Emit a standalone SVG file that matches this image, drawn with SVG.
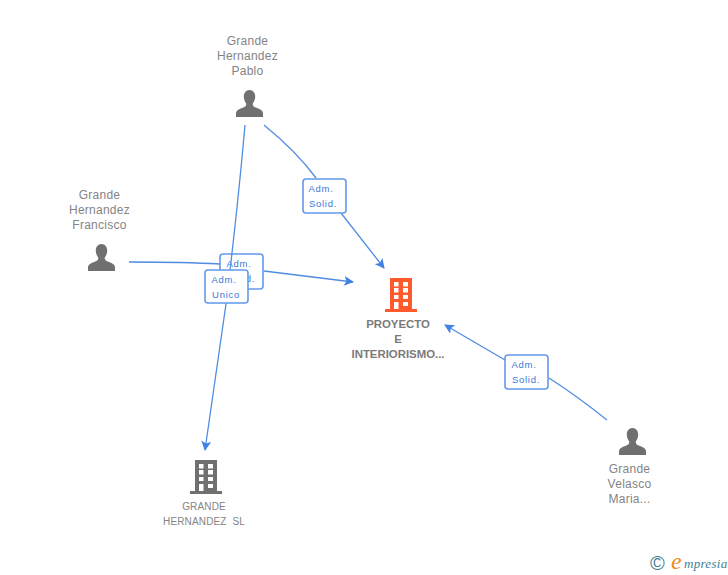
<svg xmlns="http://www.w3.org/2000/svg" width="728" height="575" viewBox="0 0 728 575">
<style>
text{font-family:"Liberation Sans",Arial,sans-serif}
.n{font-size:12px;fill:#848484;text-anchor:middle;letter-spacing:.25px}
.b{font-size:11.400px;font-weight:bold;fill:#7a7a7a;letter-spacing:0}
.s{font-size:10px;letter-spacing:.15px}
.c{fill:none;stroke:#4f8ce2;stroke-width:1.3}
.box{fill:#fff;stroke:#639aec;stroke-width:1.6}
.l{font-size:9.500px;fill:#3a78d8;text-anchor:middle;letter-spacing:.7px}
.p{fill:#707070}
</style>
<defs>
<marker id="a" viewBox="0 0 10 10" refX="9" refY="5" markerWidth="10" markerHeight="10" markerUnits="userSpaceOnUse" orient="auto"><path d="M0,0L10,5L0,10L2.500,5Z" fill="#3f82e4"/></marker>
<path id="person" d="M13.500,0C9.800,0 7.800,3 7.800,6.500C7.800,9.500 9,12 10.300,13.800C10.300,15.500 9.800,16.300 8,17.200C4.500,18.800 0.500,19.500 0,23L0,27L27,27L27,23C26.500,19.500 22.500,18.800 19,17.200C17.200,16.300 16.700,15.500 16.700,13.800C18,12 19.200,9.500 19.200,6.500C19.200,3 17.200,0 13.500,0Z"/>
<path id="bld" fill-rule="evenodd" d="M5,0H27V31H32V34H0V31H5ZM9,4V8.500H13.500V4ZM18,4V8.500H23V4ZM9,10V14.500H13.500V10ZM18,10V14.500H23V10ZM9,17V21H13.500V17ZM18,17V21H23V17ZM9,24V31H13.500V24ZM18,24V28H23V24Z"/>
</defs>
<g id="conn-back">
<path class="c" d="M264,125Q297,152 316,178"/>
<path class="c" d="M341,213L384,268" marker-end="url(#a)"/>
<path class="c" d="M129,262Q185,262 220,264"/>
<path class="c" d="M264,271L353,282" marker-end="url(#a)"/>
<path class="c" d="M607,420Q577,396 549,378"/>
<path class="c" d="M505,360L445,325" marker-end="url(#a)"/>
</g>
<g id="label-francisco"><rect class="box" x="220" y="254" width="43" height="35" rx="3"/><text class="l" x="239" y="267">Adm.</text><text class="l" x="241" y="282">Solid.</text></g>
<g id="conn-front"><path class="c" d="M245,125Q238,205 226,304L205,450" marker-end="url(#a)"/></g>
<g id="label-pablo"><rect class="box" x="303" y="179" width="43" height="34" rx="3"/><text class="l" x="321" y="192">Adm.</text><text class="l" x="323" y="207">Solid.</text></g>
<g id="label-sl"><rect class="box" x="205" y="270" width="43" height="33" rx="3"/><text class="l" x="224" y="283">Adm.</text><text class="l" x="226" y="298">Unico</text></g>
<g id="label-maria"><rect class="box" x="505" y="355" width="43" height="34" rx="3"/><text class="l" x="524" y="368">Adm.</text><text class="l" x="526" y="383">Solid.</text></g>
<g id="node-pablo"><text class="n" x="247.500" y="45">Grande</text><text class="n" x="247.500" y="60">Hernandez</text><text class="n" x="247.500" y="75">Pablo</text><use href="#person" class="p" x="236" y="90"/></g>
<g id="node-francisco"><text class="n" x="99.500" y="199">Grande</text><text class="n" x="99.500" y="214">Hernandez</text><text class="n" x="99.500" y="229">Francisco</text><use href="#person" class="p" x="88" y="244"/></g>
<g id="node-maria"><use href="#person" class="p" x="619" y="428"/><text class="n" x="629.500" y="473">Grande</text><text class="n" x="629.500" y="488">Velasco</text><text class="n" x="629.500" y="503">Maria...</text></g>
<g id="node-proyecto"><use href="#bld" fill="#ff5a2c" x="385" y="278"/><text class="n b" x="398" y="328">PROYECTO</text><text class="n b" x="398" y="343">E</text><text class="n b" x="398" y="358">INTERIORISMO...</text></g>
<g id="node-sl"><use href="#bld" fill="#707070" x="190" y="460"/><text class="n s" x="204" y="510">GRANDE</text><text class="n s" x="204" y="525" xml:space="preserve">HERNANDEZ  SL</text></g>
<g id="logo"><text x="650" y="570" style="font-size:20px;fill:#3f7f96">©</text><text x="671" y="569" style="font-family:'Liberation Serif',serif;font-size:24px;font-style:italic;fill:#f08a1d">e</text><text x="684" y="568" style="font-family:'Liberation Serif',serif;font-size:13px;font-style:italic;letter-spacing:.3px;fill:#3f7f96">mpresia</text></g>
</svg>
